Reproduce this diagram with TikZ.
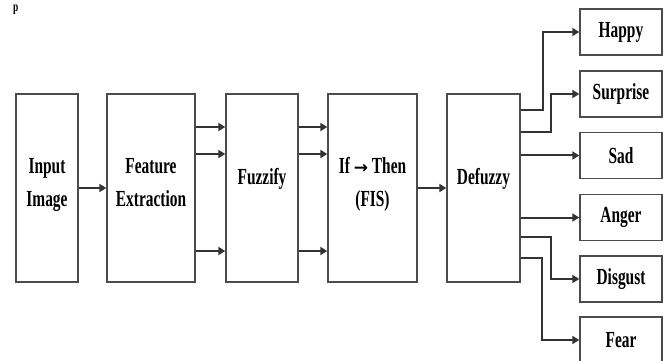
\documentclass[tikz,border=0pt]{standalone}
\usepackage{fontspec}
\setmainfont{Liberation Serif}[FakeStretch=0.67]
\newfontfamily\arrowfont{DejaVu Sans}
\usetikzlibrary{arrows.meta}

\tikzset{
  box/.style={draw=black!70, line width=1.4pt, rectangle, inner sep=0pt,
              minimum height=188pt},
  outbox/.style={draw=black!70, line width=1.4pt, rectangle, inner sep=0pt,
                 minimum width=82pt, minimum height=46pt,
                 font=\fontsize{23}{33}\selectfont\bfseries},
  lbl/.style={inner sep=0pt, align=center,
              font=\fontsize{23}{33}\selectfont\bfseries},
  arr/.style={draw=black!80, line width=2pt,
              -{Triangle[length=7pt,width=8pt]}}
}

\begin{document}
\begin{tikzpicture}[x=1pt,y=-1pt]
  \useasboundingbox (0,0) rectangle (665,361);
  \clip (0,0) rectangle (665,361);

  % stray glyph at the top edge
  \node[inner sep=0pt, anchor=base west, font=\fontsize{14}{14}\selectfont\bfseries] (stray) at (13,12) {p};

  % processing stages
  \node[box, minimum width=62pt] (inp) at (47,188) {};
  \node[box, minimum width=88pt] (fe)  at (151,188) {};
  \node[box, minimum width=72pt] (fz)  at (262,188) {};
  \node[box, minimum width=89pt] (fis) at (372.5,188) {};
  \node[box, minimum width=73pt] (dz)  at (483.5,188) {};

  \node[lbl] (inpT) at (inp |- 0,185) {Input\\Image};
  \node[lbl] (feT)  at (fe |- 0,183) {Feature\\Extraction};
  \node[lbl] (fzT)  at (fz |- 0,179) {Fuzzify};
  \node[lbl] (fisT) at (fis |- 0,184) {If {\arrowfont\fontsize{17}{17}\selectfont\bfseries\symbol{"2192}} Then\\(FIS)};
  \node[lbl] (dzT)  at (dz |- 0,179) {Defuzzy};

  % emotion classes
  \node[outbox] (happy)    at (621,32)    {Happy};
  \node[outbox] (surprise) at (621,94)    {Surprise};
  \node[outbox] (sad)      at (621,155.5) {Sad};
  \node[outbox] (anger)    at (621,217.5) {Anger};
  \node[outbox] (disgust)  at (621,279)   {Disgust};
  \node[outbox] (fear)     at (621,340)   {Fear};

  % feature channels
  \coordinate (c1) at (0,127);
  \coordinate (c2) at (0,154);
  \coordinate (c3) at (0,251);

  \draw[arr] (inp) -- (fe);
  \foreach \c in {c1,c2,c3} {
    \draw[arr] (fe.east |- \c) -- (fz.west |- \c);
    \draw[arr] (fz.east |- \c) -- (fis.west |- \c);
  }
  \draw[arr] (fis) -- (dz);

  % defuzzified outputs
  \coordinate (o1) at (0,110);
  \coordinate (o2) at (0,132);
  \coordinate (o5) at (0,237);
  \coordinate (o6) at (0,258);

  \draw[arr] (dz.east |- o1) -- ++(22,0) |- (happy.west);
  \draw[arr] (dz.east |- o2) -- ++(30,0) |- (surprise.west);
  \draw[arr] (dz.east |- sad.west) -- (sad.west);
  \draw[arr] (dz.east |- anger.west) -- (anger.west);
  \draw[arr] (dz.east |- o5) -- ++(30,0) |- (disgust.west);
  \draw[arr] (dz.east |- o6) -- ++(21,0) |- (fear.west);
\end{tikzpicture}
\end{document}
